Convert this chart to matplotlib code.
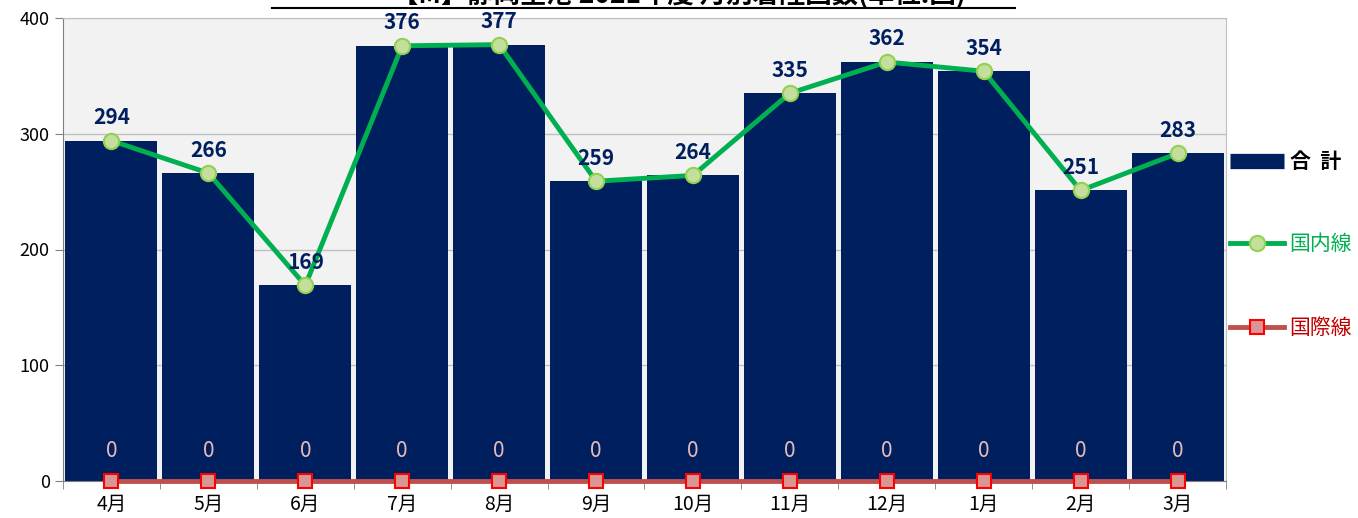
import matplotlib
matplotlib.use("Agg")
import matplotlib.pyplot as plt
from matplotlib.lines import Line2D
import numpy as np

plt.rcParams['font.family'] = ['Noto Sans CJK JP', 'DejaVu Sans']

months = ['4月', '5月', '6月', '7月', '8月', '9月', '10月', '11月', '12月', '1月', '2月', '3月']
total = [294, 266, 169, 376, 377, 259, 264, 335, 362, 354, 251, 283]
domestic = [294, 266, 169, 376, 377, 259, 264, 335, 362, 354, 251, 283]
international = [0, 0, 0, 0, 0, 0, 0, 0, 0, 0, 0, 0]

navy = '#001F5F'
green = '#00B050'
red = '#C0504D'

fig = plt.figure(figsize=(13.58, 5.18), dpi=100)
ax = fig.add_axes([63 / 1358, 37 / 518, (1226 - 63) / 1358, (481 - 18) / 518])
ax.set_facecolor('#F2F2F2')

x = np.arange(len(months))
ax.bar(x, total, width=0.95, color=navy, zorder=2)
ax.plot(x, domestic, color=green, lw=3.5, marker='o', ms=11,
        mfc='#C4DE9E', mec='#92D050', mew=1.5, zorder=4)
ax.plot(x, international, color=red, lw=3.5, marker='s', ms=10,
        mfc='#DA9694', mec='#FF0000', mew=1.5, zorder=4, clip_on=False)

for xi, v in zip(x, domestic):
    ax.annotate(str(v), (xi, v), xytext=(0, 9), textcoords='offset points',
                ha='center', va='bottom', fontsize=15, fontweight='bold',
                color=navy, zorder=5)
for xi, v in zip(x, international):
    ax.annotate(str(v), (xi, v), xytext=(0, 14), textcoords='offset points',
                ha='center', va='bottom', fontsize=15, color='#E6B9B8', zorder=5)

ax.set_xlim(-0.5, len(months) - 0.5)
ax.set_ylim(0, 400)
ax.set_yticks([0, 100, 200, 300, 400])
ax.yaxis.grid(True, color='#BFBFBF', lw=1, zorder=1)
ax.set_axisbelow(True)

ax.set_xticks(x)
ax.set_xticklabels(months, fontsize=14)
ax.set_xticks(np.arange(-0.5, len(months)), minor=True)
ax.tick_params(axis='x', which='major', length=0, pad=9)
ax.tick_params(axis='x', which='minor', length=6, color='#808080')
ax.tick_params(axis='y', labelsize=13, length=6, color='#808080')

for s in ['left', 'bottom']:
    ax.spines[s].set_color('#808080')
for s in ['top', 'right']:
    ax.spines[s].set_color('#BFBFBF')

handles = [
    Line2D([0], [0], color=navy, lw=11, solid_capstyle='butt'),
    Line2D([0], [0], color=green, lw=3.5, marker='o', ms=11,
           mfc='#C4DE9E', mec='#92D050', mew=1.5),
    Line2D([0], [0], color=red, lw=3.5, marker='s', ms=10,
           mfc='#DA9694', mec='#FF0000', mew=1.5),
]
labels = ['合  計', '国内線', '国際線']
leg = ax.legend(handles, labels, loc='center left', bbox_to_anchor=(1.0, 0.51),
                frameon=False, fontsize=15, labelspacing=2.95, handlelength=2.6,
                handletextpad=0.25, borderaxespad=0.1, borderpad=0.1,
                labelcolor=['black', green, '#C00000'])
leg.get_texts()[0].set_fontweight('bold')

# title sits mostly above the figure edge, as in the source image
fig.text(0.5, 1 - 4 / 518, '【M】静岡空港 2021年度 月別着陸回数(単位:回)',
         ha='center', va='baseline', fontsize=19, fontweight='bold')
fig.add_artist(Line2D([272 / 1358, 1015 / 1358], [1 - 8 / 518, 1 - 8 / 518],
                      color='black', lw=1.5, transform=fig.transFigure))

fig.savefig('out.png', dpi=100)
